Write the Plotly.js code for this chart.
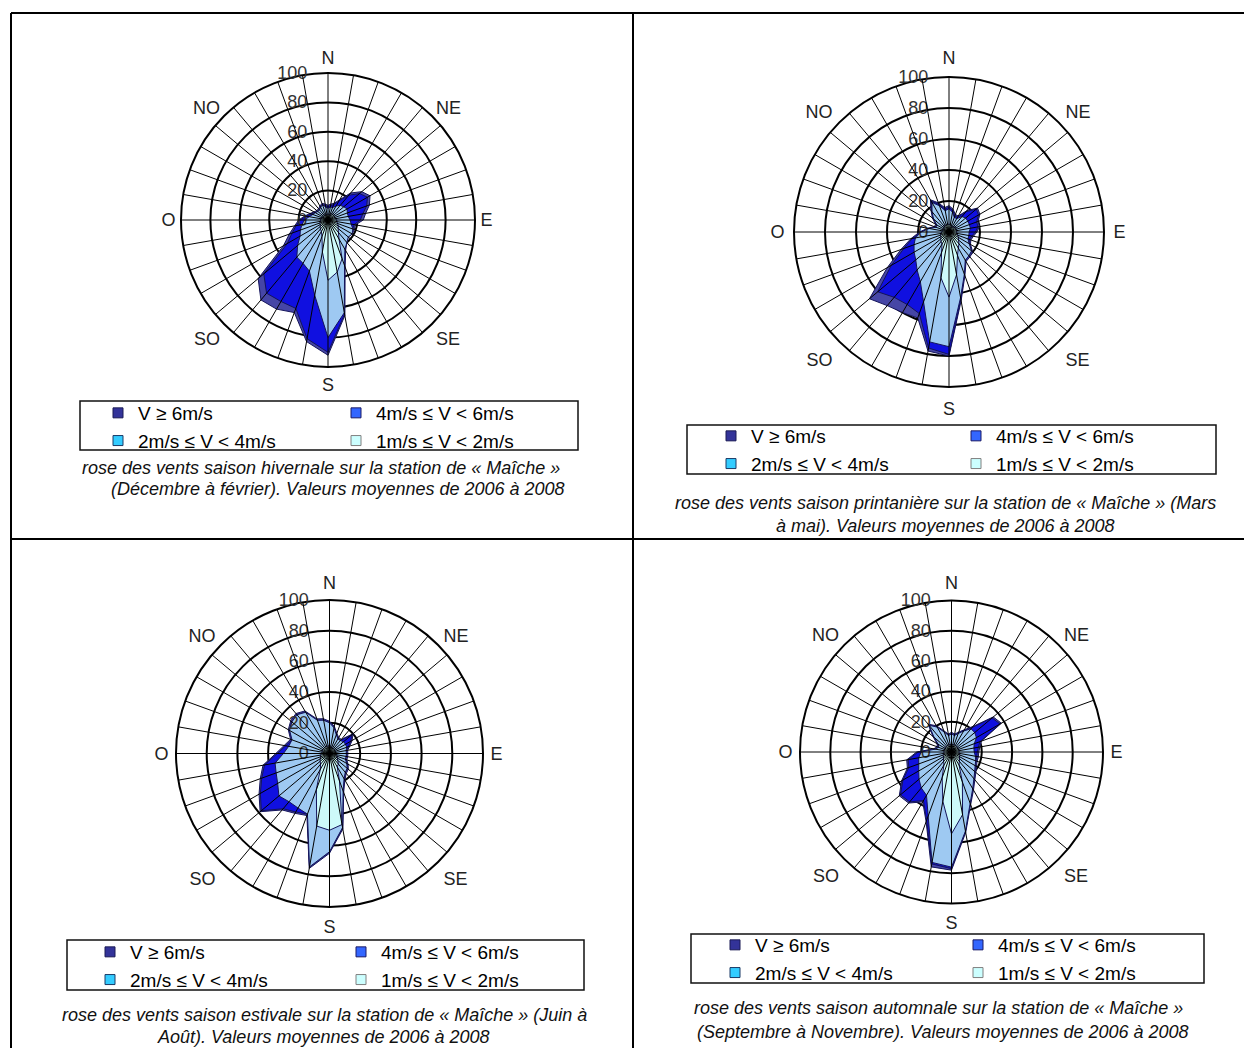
<!DOCTYPE html>
<html>
<head>
<meta charset="utf-8">
<script src="https://cdn.plot.ly/plotly-3.0.1.min.js"></script>
<style>
  html, body { margin: 0; padding: 0; background: #ffffff; }
  #chart { width: 1244px; height: 1048px; }
</style>
</head>
<body>
<div id="chart"></div>
<script>
// ---------------- DATA ----------------
// wind directions (degrees, clockwise from North)
const directions = [0,10,20,30,40,50,60,70,80,90,100,110,120,130,140,150,160,170,
                    180,190,200,210,220,230,240,250,260,270,280,290,300,310,320,330,340,350];
const compassAngles = [0,45,90,135,180,225,270,315];
const compassLabels = ['N','NE','E','SE','S','SO','O','NO'];
const radialTicks = [0,20,40,60,80,100];

const classNames = ['V ≥ 6m/s', '4m/s ≤ V &lt; 6m/s', '2m/s ≤ V &lt; 4m/s', '1m/s ≤ V &lt; 2m/s'];

// cumulated frequencies (stacked rose): value reached by each speed class
// Hiver (décembre à février)
const hiver_6plus = [10,11,12,16,24,30,33,30,26,24,19,19,19,18,20,24,34,66,92,84,67,70,71,62,35,28,23,20,16,13,11,10,10,11,12,11];
const hiver_4a6   = [9,10,11,15,22,28,31,28,24,22,18,18,18,17,19,23,33,65,90,82,64,64,65,57,32,26,22,19,15,12,10,9,9,10,11,10];
const hiver_2a4   = [8,9,9,11,13,14,15,14,14,15,16,18,19,18,20,23,33,64,80,52,37,34,33,27,22,20,18,16,13,11,10,9,9,10,11,9];
const hiver_1a2   = [4,4,4,5,5,5,5,5,5,6,6,7,8,9,11,15,28,36,41,22,12,9,8,7,6,6,5,5,5,4,4,4,4,4,4,4];
// Printemps (mars à mai)
const printemps_6plus = [17,15,12,12,18,24,23,20,20,18,16,15,16,20,21,22,30,45,80,78,59,60,62,67,46,33,25,19,14,10,10,14,18,24,20,16];
const printemps_4a6   = [16,14,11,11,17,23,22,19,19,17,15,14,15,19,20,21,29,44,79,76,56,54,55,60,43,31,24,18,13,9,9,13,17,23,19,15];
const printemps_2a4   = [15,13,10,10,13,14,14,14,14,13,13,13,15,19,20,21,29,43,74,72,48,37,32,28,26,24,22,18,13,9,9,13,17,22,18,14];
const printemps_1a2   = [5,5,4,4,4,5,5,5,5,5,5,6,7,8,10,12,16,28,42,30,14,9,8,7,6,6,5,5,4,4,4,4,5,5,5,5];
// Eté (juin à août)
const ete_6plus = [21,18,14,12,12,20,17,14,12,12,12,12,14,16,17,20,27,50,65,76,43,45,48,59,53,48,44,35,30,27,31,33,34,32,24,23];
const ete_4a6   = [20,17,13,11,11,19,16,13,11,11,11,11,13,15,16,19,26,49,64,75,42,44,47,58,52,47,43,34,29,26,30,32,33,31,23,22];
const ete_2a4   = [20,17,13,11,11,12,12,12,11,11,11,11,13,15,16,19,26,49,64,75,42,41,41,43,39,37,36,30,27,26,30,32,33,31,23,22];
const ete_1a2   = [5,5,4,4,4,4,4,4,4,4,5,5,6,7,9,10,19,47,50,48,25,12,9,8,7,6,6,5,5,5,5,5,5,5,5,5];
// Automne (septembre à novembre)
const automne_6plus = [13,12,14,17,22,36,38,21,19,18,18,18,19,21,24,29,37,54,78,77,49,38,44,45,38,31,30,23,12,10,11,16,24,20,15,12];
const automne_4a6   = [12,11,13,16,21,35,37,20,18,17,17,17,18,20,23,28,36,53,77,75,48,37,43,44,37,30,29,22,11,9,10,15,23,19,14,11];
const automne_2a4   = [12,11,13,16,20,20,19,16,15,15,16,17,18,20,23,28,36,53,76,74,45,33,31,28,25,23,22,20,11,9,10,15,23,19,14,11];
const automne_1a2   = [5,5,5,5,5,5,5,5,5,5,5,6,6,7,8,10,21,42,54,33,18,10,8,7,6,6,5,5,5,5,5,5,5,5,5,5];

const captions = [
  ['rose des vents saison hivernale sur la station de « Maîche »', '(Décembre à février). Valeurs moyennes de 2006 à 2008'],
  ['rose des vents saison printanière sur la station de « Maîche » (Mars', 'à mai). Valeurs moyennes de 2006 à 2008'],
  ['rose des vents saison estivale sur la station de « Maîche » (Juin à', 'Août). Valeurs moyennes de 2006 à 2008'],
  ['rose des vents saison automnale sur la station de « Maîche »', '(Septembre à Novembre). Valeurs moyennes de 2006 à 2008']
];

// ---------------- STYLE / LAYOUT ----------------
const W = 1244, H = 1048;
const px = x => x / W;
const py = y => 1 - y / H;

const fillColors   = ['#4646a6', '#1010e0', '#9ec9f2', '#cdfafa'];
const legendColors = ['#333399', '#3366ff', '#33ccff', '#ccffff'];
const legendLines  = ['#1a1a55', '#1a1a66', '#1a3a66', '#808080'];
const FONT = 'Liberation Sans, Arial, sans-serif';

const seasons = [
  {series: [hiver_6plus, hiver_4a6, hiver_2a4, hiver_1a2],
   geo: {cx: 328, cy: 220, r: 147}, tl: 1,
   box: [80, 401, 578, 450], col1: [135, 414], col2: [373, 414],
   cap: [[321, 468], [338, 489]]},
  {series: [printemps_6plus, printemps_4a6, printemps_2a4, printemps_1a2],
   geo: {cx: 949, cy: 232, r: 155}, tl: 5,
   box: [687, 425, 1216, 474], col1: [748, 437], col2: [993, 437],
   cap: [[946, 503], [945, 526]]},
  {series: [ete_6plus, ete_4a6, ete_2a4, ete_1a2],
   geo: {cx: 329.5, cy: 753.5, r: 153.5}, tl: 3,
   box: [67, 940, 584, 990], col1: [127, 953], col2: [378, 953],
   cap: [[324, 1015], [323, 1037]]},
  {series: [automne_6plus, automne_4a6, automne_2a4, automne_1a2],
   geo: {cx: 951.5, cy: 752, r: 151.5}, tl: 3,
   box: [691, 934, 1204, 983], col1: [752, 946], col2: [995, 946],
   cap: [[938, 1008], [943, 1032]]}
];

const data = [];
const layout = {
  width: W, height: H,
  margin: {l: 0, r: 0, t: 0, b: 0},
  paper_bgcolor: '#ffffff',
  showlegend: true,
  shapes: [], annotations: []
};

const closed = arr => arr.concat([arr[0]]);
const legendId = n => (n === 1 ? 'legend' : 'legend' + n);

seasons.forEach((s, i) => {
  const k = i + 1;
  const main = 'polar' + (k === 1 ? '' : k);
  const over = 'polar' + (k + 4);
  const g = s.geo;
  const domain = {x: [px(g.cx - g.r), px(g.cx + g.r)], y: [py(g.cy + g.r), py(g.cy - g.r)]};

  layout[main] = {
    domain: domain,
    bgcolor: '#ffffff',
    angularaxis: {
      rotation: 90, direction: 'clockwise',
      tickmode: 'array', tickvals: compassAngles, ticktext: compassLabels,
      showgrid: false, showline: true, linecolor: '#000', linewidth: 2,
      ticks: 'outside', ticklen: s.tl, tickcolor: 'rgba(0,0,0,0)',
      tickfont: {family: FONT, size: 18, color: '#222'}
    },
    radialaxis: {
      range: [0, 100], tickmode: 'array', tickvals: radialTicks,
      showgrid: true, gridcolor: '#000', gridwidth: 2,
      showline: false, angle: 90, side: 'counterclockwise', tickangle: 90,
      ticks: 'outside', ticklen: 14, tickcolor: 'rgba(0,0,0,0)',
      tickfont: {family: FONT, size: 18, color: '#333'}
    }
  };
  layout[over] = {
    domain: domain,
    bgcolor: 'rgba(0,0,0,0)',
    angularaxis: {
      rotation: 90, direction: 'clockwise',
      tickmode: 'array', tickvals: directions,
      showgrid: true, gridcolor: '#000', gridwidth: 1,
      showline: false, showticklabels: false, ticks: ''
    },
    radialaxis: {visible: false, range: [0, 100], showgrid: false}
  };

  // stacked fills, outermost first
  s.series.forEach((vals, j) => {
    data.push({
      type: 'scatterpolar', subplot: main,
      r: closed(vals), theta: closed(directions),
      mode: 'lines', fill: 'toself', fillcolor: fillColors[j],
      line: {color: '#14145a', width: 1},
      showlegend: false, hoverinfo: 'skip'
    });
  });

  // legend entries (two columns per rose); one empty point so the entry exists
  const l1 = legendId(2 * k - 1), l2 = legendId(2 * k);
  const colOf = [l1, l2, l1, l2];
  classNames.forEach((name, j) => {
    data.push({
      type: 'scatterpolar', subplot: over,
      r: [null], theta: [null], mode: 'markers', name: name,
      legend: colOf[j], showlegend: true,
      marker: {symbol: 'square', size: 10, color: legendColors[j], line: {color: legendLines[j], width: 1}},
      hoverinfo: 'skip'
    });
  });
  const legStyle = {
    xanchor: 'left', yanchor: 'top', orientation: 'v',
    bgcolor: 'rgba(0,0,0,0)', borderwidth: 0, tracegroupgap: 0,
    font: {family: FONT, size: 19, color: '#000'}
  };
  layout[l1] = Object.assign({}, legStyle, {x: px(s.col1[0] - 37), y: py(s.col1[1] - 20)});
  layout[l2] = Object.assign({}, legStyle, {x: px(s.col2[0] - 37), y: py(s.col2[1] - 20)});

  // legend frame
  layout.shapes.push({type: 'rect', xref: 'paper', yref: 'paper',
    x0: px(s.box[0]), x1: px(s.box[2]), y0: py(s.box[3]), y1: py(s.box[1]),
    line: {color: '#111', width: 1.5}, fillcolor: 'rgba(0,0,0,0)'});

  // captions
  captions[i].forEach((txt, j) => {
    layout.annotations.push({
      xref: 'paper', yref: 'paper', x: px(s.cap[j][0]), y: py(s.cap[j][1]),
      xanchor: 'center', yanchor: 'middle', showarrow: false, text: txt,
      font: {family: FONT, size: 18, color: '#111', style: 'italic'}
    });
  });
});

// table borders
const tbl = [
  [11, 13, 1244, 13], [11, 13, 11, 1048], [633, 13, 633, 1048], [11, 539, 1244, 539]
];
tbl.forEach(t => layout.shapes.push({type: 'line', xref: 'paper', yref: 'paper',
  x0: px(t[0]), y0: py(t[1]), x1: px(t[2]), y1: py(t[3]), line: {color: '#000', width: 2}}));

Plotly.newPlot('chart', data, layout, {staticPlot: true, displayModeBar: false});
</script>
</body>
</html>
